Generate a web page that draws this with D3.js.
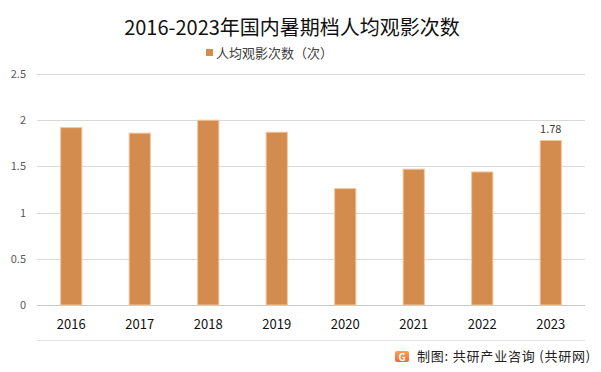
<!DOCTYPE html>
<html>
<head>
<meta charset="utf-8">
<script src="https://cdn.jsdelivr.net/npm/d3@7"></script>
<style>
  body { margin: 0; background: #fff; }
  text { font-family: "Microsoft YaHei", "Noto Sans CJK SC", sans-serif; }
</style>
</head>
<body>
<div id="chart"></div>
<script>
var years = ["2016", "2017", "2018", "2019", "2020", "2021", "2022", "2023"];
var perCapita = [1.92, 1.86, 2.0, 1.87, 1.26, 1.47, 1.44, 1.78];
var yTicks = [0, 0.5, 1, 1.5, 2, 2.5];
var seriesName = "人均观影次数（次）";
var titleText = "2016-2023年国内暑期档人均观影次数";
var sourceText = "制图: 共研产业咨询 (共研网)";

var svgWidth = 601;
var svgHeight = 372;
var margin = { top: 74, right: 16, bottom: 67, left: 37 };
var width = svgWidth - margin.left - margin.right;
var height = svgHeight - margin.top - margin.bottom;

var svg = d3.select("#chart")
  .append("svg")
  .attr("width", svgWidth)
  .attr("height", svgHeight);

var chartGroup = svg.append("g")
  .attr("transform", `translate(${margin.left}, ${margin.top})`);

var xScale = d3.scaleBand()
  .domain(years)
  .range([0, width])
  .paddingInner(0.69)
  .paddingOuter(0.345);

var yScale = d3.scaleLinear()
  .domain([0, 2.5])
  .range([height, 0]);

// gridlines
chartGroup.selectAll(".grid")
  .data(yTicks)
  .enter()
  .append("line")
  .attr("x1", 0)
  .attr("x2", width)
  .attr("y1", d => Math.round(yScale(d)) + 0.5)
  .attr("y2", d => Math.round(yScale(d)) + 0.5)
  .attr("stroke", d => d === 0 ? "#c8c8c8" : "#d9d9d9")
  .attr("stroke-width", 1);

// y axis labels
var leftAxis = d3.axisLeft(yScale).tickValues(yTicks).tickSize(0).tickPadding(11)
  .tickFormat(d3.format("~g"));
chartGroup.append("g")
  .call(leftAxis)
  .call(g => g.select(".domain").remove())
  .selectAll("text")
  .attr("fill", "#595959")
  .style("font-size", "11px");

// x axis labels
var bottomAxis = d3.axisBottom(xScale).tickSize(0).tickPadding(15);
chartGroup.append("g")
  .attr("transform", `translate(0, ${height})`)
  .call(bottomAxis)
  .call(g => g.select(".domain").remove())
  .selectAll("text")
  .attr("fill", "#111")
  .style("font-size", "13px");

// bars
chartGroup.selectAll(".bar")
  .data(perCapita)
  .enter()
  .append("rect")
  .attr("x", (d, i) => xScale(years[i]))
  .attr("y", d => yScale(d))
  .attr("width", xScale.bandwidth())
  .attr("height", d => height - yScale(d))
  .attr("fill", "#d38c4e")
  .attr("stroke", "#f2c7a0")
  .attr("stroke-width", 1);

// label on last bar
var last = perCapita.length - 1;
chartGroup.append("text")
  .attr("x", xScale(years[last]) + xScale.bandwidth() / 2)
  .attr("y", yScale(perCapita[last]) - 8)
  .attr("text-anchor", "middle")
  .attr("fill", "#404040")
  .style("font-size", "11px")
  .text(d3.format(".2f")(perCapita[last]));

// bottom separator
svg.append("line")
  .attr("x1", margin.left)
  .attr("x2", margin.left + width)
  .attr("y1", 340.5)
  .attr("y2", 340.5)
  .attr("stroke", "#e3e3e3");

// title
svg.append("text")
  .attr("x", 292)
  .attr("y", 35)
  .attr("text-anchor", "middle")
  .attr("fill", "#111")
  .style("font-size", "20px")
  .text(titleText);

// legend
svg.append("rect")
  .attr("x", 206)
  .attr("y", 49)
  .attr("width", 7)
  .attr("height", 7)
  .attr("fill", "#d38c4e");
svg.append("text")
  .attr("x", 216)
  .attr("y", 58)
  .attr("fill", "#404040")
  .style("font-size", "13px")
  .text(seriesName);

// source with logo
var grad = svg.append("defs").append("linearGradient")
  .attr("id", "logoGrad")
  .attr("x1", "0").attr("y1", "0").attr("x2", "0").attr("y2", "1");
grad.append("stop").attr("offset", "0%").attr("stop-color", "#f7a35a");
grad.append("stop").attr("offset", "100%").attr("stop-color", "#ef6a3a");
svg.append("rect")
  .attr("x", 395)
  .attr("y", 351)
  .attr("width", 14)
  .attr("height", 11)
  .attr("rx", 2)
  .attr("fill", "url(#logoGrad)");
svg.append("text")
  .attr("x", 402)
  .attr("y", 360.5)
  .attr("text-anchor", "middle")
  .attr("fill", "#fff")
  .style("font-size", "10px")
  .style("font-weight", "bold")
  .text("G");
svg.append("text")
  .attr("x", 417)
  .attr("y", 361)
  .attr("fill", "#222")
  .style("font-size", "13px")
  .style("letter-spacing", "0.8px")
  .text(sourceText);
</script>
</body>
</html>
